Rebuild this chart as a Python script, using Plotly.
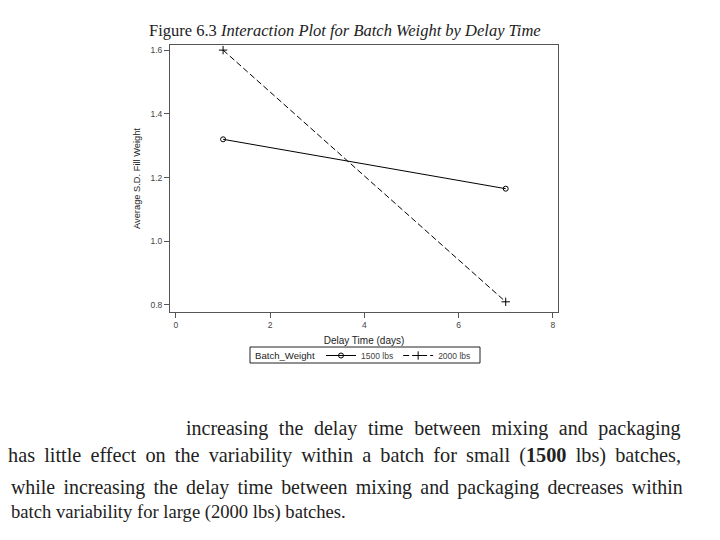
import plotly.graph_objects as go

delay_days = [1, 7]
sd_1500 = [1.32, 1.165]
sd_2000 = [1.60, 0.81]
series_names = ["1500 lbs", "2000 lbs"]
x_ticks = [0, 2, 4, 6, 8]
y_ticks = [0.8, 1.0, 1.2, 1.4, 1.6]

W, H = 720, 540
OFF = 8  # page body margin offset
L, R, T, B = 170 - OFF, 558 - OFF, 45 - OFF, 312 - OFF

def px(x):
    return (x - OFF - L) / (R - L)

def py(y):
    return (B - (y - OFF)) / (B - T)

fig = go.Figure()
fig.add_trace(go.Scatter(x=delay_days, y=sd_1500, name=series_names[0], mode="lines+markers",
                         line=dict(color="black", width=1),
                         marker=dict(symbol="circle-open", size=5, color="black", line=dict(width=1))))
fig.add_trace(go.Scatter(x=delay_days, y=sd_2000, name=series_names[1], mode="lines+markers",
                         line=dict(color="black", width=1, dash="6px,3px"),
                         marker=dict(symbol="cross-thin-open", size=6, color="black", line=dict(width=1))))

axis_common = dict(showline=True, mirror=True, linecolor="#555", linewidth=1, ticks="outside",
                   ticklen=5, tickcolor="#555", showgrid=False, zeroline=False, automargin=False,
                   tickfont=dict(family="Liberation Sans", size=8.5, color="#444"))

fig.update_layout(
    width=W, height=H,
    margin=dict(l=L, r=W - R, t=T, b=H - B, pad=0, autoexpand=False),
    paper_bgcolor="white", plot_bgcolor="white",
    xaxis=dict(range=[-0.127, 8.11], tickvals=x_ticks,
               title=dict(text="Delay Time (days)", font=dict(family="Liberation Sans", size=10, color="#222"), standoff=7),
               **axis_common),
    yaxis=dict(range=[0.778, 1.616], tickvals=y_ticks, tickformat=".1f",
               title=dict(text="Average S.D. Fill Weight", font=dict(family="Liberation Sans", size=9.3, color="#222"), standoff=8),
               **axis_common),
    legend=dict(orientation="h", x=px(321), xanchor="left", y=py(355.5), yanchor="middle",
                font=dict(family="Liberation Sans", size=8.5, color="#444"),
                borderwidth=0, itemwidth=30, tracegroupgap=0,
                valign="middle", bgcolor="rgba(0,0,0,0)"),
    showlegend=True,
)

# legend frame and title
fig.add_shape(type="rect", xref="paper", yref="paper", x0=px(250), x1=px(480), y0=py(347), y1=py(363),
              line=dict(color="#222", width=1), fillcolor="rgba(0,0,0,0)", layer="below")
fig.add_annotation(text="Batch_Weight", xref="paper", yref="paper", x=px(253), y=py(355.5),
                   xanchor="left", yanchor="middle", showarrow=False,
                   font=dict(family="Liberation Sans", size=9.6, color="#222"))

fig.add_annotation(text="Figure 6.3 <i>Interaction Plot for Batch Weight by Delay Time</i>",
                   xref="paper", yref="paper", x=px(345), y=py(30), xanchor="center", yanchor="middle",
                   showarrow=False, font=dict(family="Liberation Serif", size=16.5, color="#222"))

def spaced(text, extra):
    return text.replace(" ", " " + extra)

body = [
    (spaced("increasing the delay time between mixing and packaging", "\u2009\u200a"), 683, 428, "right", 20),
    (spaced("has little effect on the variability within a batch for small (<b>1500</b> lbs) batches,", "\u2009"), 683, 455, "right", 20.3),
    (spaced("while increasing the delay time between mixing and packaging decreases within", "\u200a\u200a"), 9, 487, "left", 19.9),
    ("batch variability for large (2000 lbs) batches.", 9, 512, "left", 18.6),
]
for txt, xx, yy, anc, fs in body:
    fig.add_annotation(text=txt, xref="paper", yref="paper", x=px(xx), y=py(yy),
                       xanchor=anc, yanchor="middle", showarrow=False,
                       font=dict(family="Liberation Serif", size=fs, color="#222"))

fig.write_html("out.html")
